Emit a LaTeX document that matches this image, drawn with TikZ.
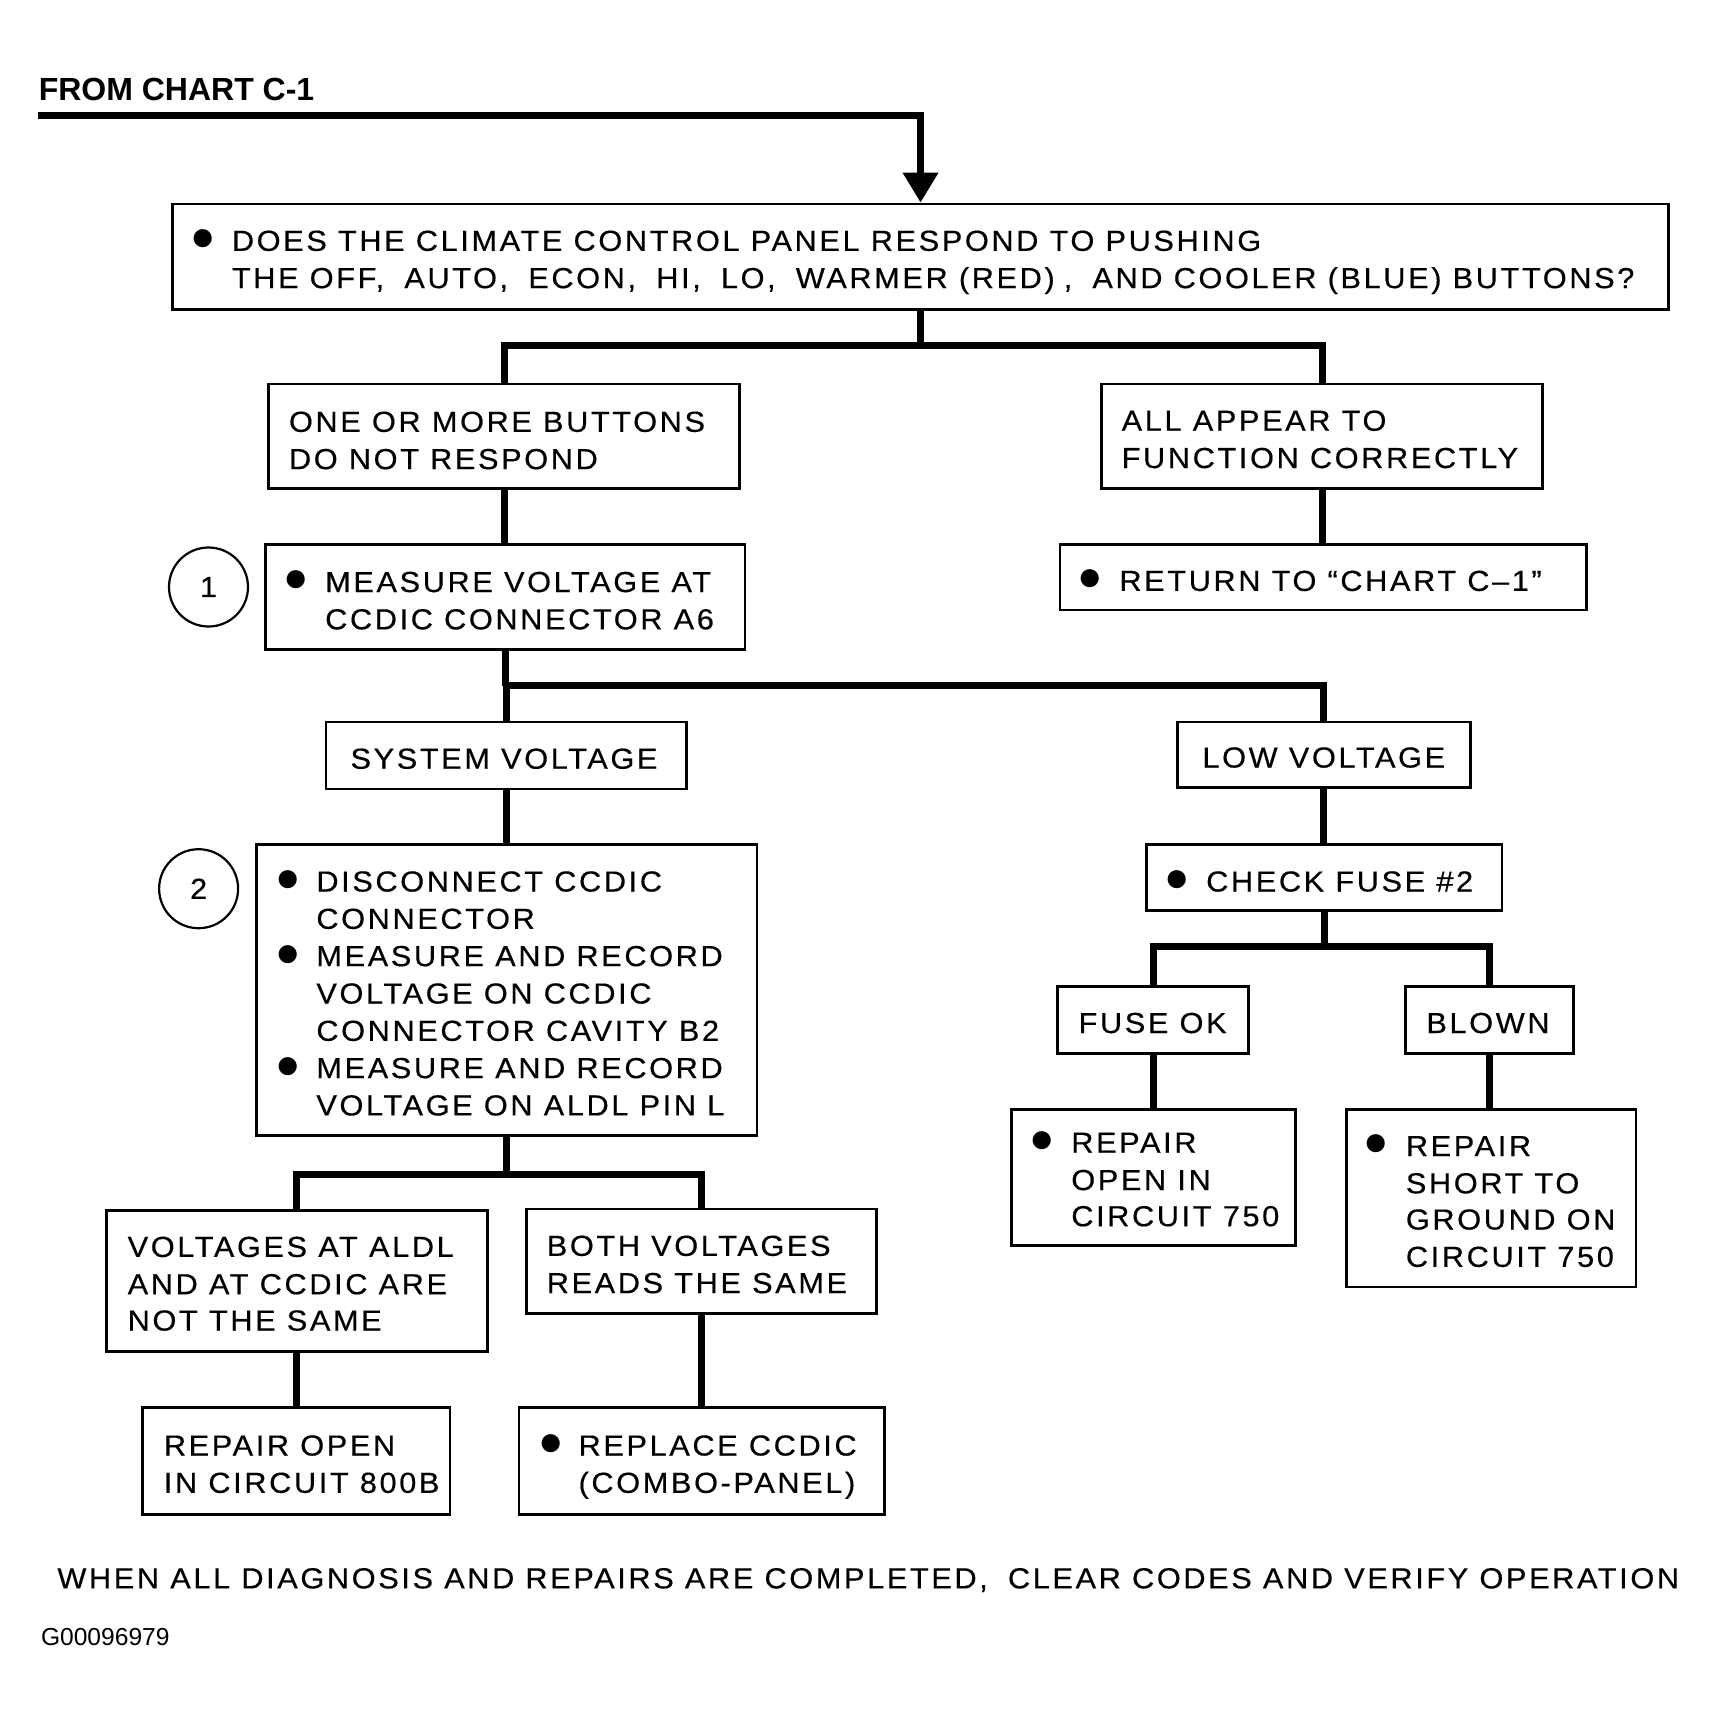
\documentclass[tikz,border=0pt]{standalone}
\usepackage{fontspec}
\setmainfont{Liberation Sans}[FakeStretch=1.06,LetterSpace=9,FakeBold=0.4]
\newfontfamily\plainfont{Liberation Sans}
\usetikzlibrary{arrows.meta}
\newcommand\csp{\hspace{4.5pt}}
\tikzset{
  bx/.style n args={2}{draw, line width=1.4pt, inner sep=0pt,
    minimum width=#1*0.5pt, minimum height=#2*0.5pt},
  tx/.style={inner sep=0pt, anchor=base west, font=\fontsize{14.5}{17}\selectfont},
  txc/.style={inner sep=0pt, anchor=base, font=\fontsize{14.5}{17}\selectfont},
  bul/.style={inner sep=0pt, anchor=center, font=\plainfont\fontsize{21}{24}\selectfont},
  num/.style={draw, circle, line width=1.1pt, inner sep=0pt, minimum size=39.5pt,
    font=\fontsize{14.5}{17}\selectfont},
  conn/.style={line width=3.5pt, line join=miter}
}
\begin{document}
\begin{tikzpicture}[x=0.5pt,y=-0.5pt]
\useasboundingbox (0,0) rectangle (1716,1720);
% title
\node[inner sep=0pt, anchor=base west, font=\plainfont\bfseries\fontsize{16}{19}\selectfont] (title) at (38.4,100) {FROM CHART C-1};
\coordinate (start) at (38,115.5);
% boxes
\node[bx={1496.5}{105.4}] (b1) at (920.55,256.7) {};
\node[bx={470.7}{104.3}] (b2L) at (504.15,436.15) {};
\node[bx={441.1}{104.3}] (b2R) at (1322.15,436.15) {};
\node[bx={479.5}{105.3}] (b3L) at (505.25,596.85) {};
\node[bx={526.5}{65.8}] (b3R) at (1323.25,577.1) {};
\node[bx={360.9}{66.9}] (b4L) at (506.35,755.45) {};
\node[bx={292.9}{65.8}] (b4R) at (1323.75,754.9) {};
\node[bx={500.3}{290.8}] (b5L) at (506.85,990.2) {};
\node[bx={355.4}{65.9}] (b5R) at (1324.3,877.75) {};
\node[bx={190.9}{66.9}] (b6a) at (1153.15,1019.85) {};
\node[bx={167.9}{66.9}] (b6b) at (1489.45,1019.85) {};
\node[bx={284.2}{136}] (b7a) at (1153.7,1177.3) {};
\node[bx={289.6}{177.7}] (b7b) at (1491.1,1198.15) {};
\node[bx={380.8}{141.5}] (b8a) at (296.8,1280.95) {};
\node[bx={350}{104.3}] (b8b) at (701.7,1261.15) {};
\node[bx={307.3}{106.4}] (b9a) at (296.25,1460.9) {};
\node[bx={365.3}{106.4}] (b9b) at (701.65,1460.9) {};
% circled numbers
\node[num] (c1) at (208.5,587) {1};
\node[num] (c2) at (198.6,888.7) {2};
% texts
\node[bul] (u1) at (203,240.3) {●};
\node[tx] (t1a) at (231.5,250.8) {DOES THE CLIMATE CONTROL PANEL RESPOND TO PUSHING};
\node[tx] (t1b) at (231.5,288.1) {THE OFF,\csp{} AUTO,\csp{} ECON,\csp{} HI,\csp{} LO,\csp{} WARMER (RED)\csp,\csp{} AND COOLER (BLUE) BUTTONS?};
\node[tx] (t2La) at (288.6,431.8) {ONE OR MORE BUTTONS};
\node[tx] (t2Lb) at (288.6,469.1) {DO NOT RESPOND};
\node[tx] (t2Ra) at (1121.3,430.7) {ALL APPEAR TO};
\node[tx] (t2Rb) at (1121.3,468) {FUNCTION CORRECTLY};
\node[bul] (u3L) at (296,581.5) {●};
\node[tx] (t3La) at (324.8,592) {MEASURE VOLTAGE AT};
\node[tx] (t3Lb) at (324.8,629.3) {CCDIC CONNECTOR A6};
\node[bul] (u3R) at (1090.6,580.4) {●};
\node[tx] (t3R) at (1119,590.9) {RETURN TO “CHART C–1”};
\node[txc] (t4L) at (504,768.7) {SYSTEM VOLTAGE};
\node[txc] (t4R) at (1323.8,767.5) {LOW VOLTAGE};
\node[bul] (u5a) at (288.6,881) {●};
\node[tx] (t5a) at (316,891.5) {DISCONNECT CCDIC};
\node[tx] (t5b) at (316,928.8) {CONNECTOR};
\node[bul] (u5b) at (288.6,955.6) {●};
\node[tx] (t5c) at (316,966.1) {MEASURE AND RECORD};
\node[tx] (t5d) at (316,1003.5) {VOLTAGE ON CCDIC};
\node[tx] (t5e) at (316,1040.8) {CONNECTOR CAVITY B2};
\node[bul] (u5c) at (288.6,1067.6) {●};
\node[tx] (t5f) at (316,1078.1) {MEASURE AND RECORD};
\node[tx] (t5g) at (316,1115.4) {VOLTAGE ON ALDL PIN L};
\node[bul] (u5R) at (1177.3,881) {●};
\node[tx] (t5R) at (1205.8,891.5) {CHECK FUSE \#2};
\node[txc] (t6a) at (1152.6,1033) {FUSE OK};
\node[txc] (t6b) at (1488,1033) {BLOWN};
\node[bul] (u7a) at (1042.3,1142.2) {●};
\node[tx] (t7aa) at (1070.9,1152.7) {REPAIR};
\node[tx] (t7ab) at (1070.9,1190) {OPEN IN};
\node[tx] (t7ac) at (1070.9,1226.2) {CIRCUIT 750};
\node[bul] (u7b) at (1376,1145.5) {●};
\node[tx] (t7ba) at (1405.5,1156) {REPAIR};
\node[tx] (t7bb) at (1405.5,1193.3) {SHORT TO};
\node[tx] (t7bc) at (1405.5,1229.5) {GROUND ON};
\node[tx] (t7bd) at (1405.5,1266.8) {CIRCUIT 750};
\node[tx] (t8aa) at (127.3,1256.9) {VOLTAGES AT ALDL};
\node[tx] (t8ab) at (127.3,1294.2) {AND AT CCDIC ARE};
\node[tx] (t8ac) at (127.3,1330.5) {NOT THE SAME};
\node[tx] (t8ba) at (546.4,1255.8) {BOTH VOLTAGES};
\node[tx] (t8bb) at (546.4,1293.1) {READS THE SAME};
\node[tx] (t9aa) at (163.5,1455.5) {REPAIR OPEN};
\node[tx] (t9ab) at (163.5,1492.8) {IN CIRCUIT 800B};
\node[bul] (u9b) at (550.8,1445) {●};
\node[tx] (t9ba) at (578.2,1455.5) {REPLACE CCDIC};
\node[tx] (t9bb) at (578.2,1492.8) {(COMBO-PANEL)};
\node[tx] (foot) at (57,1588.3) {WHEN ALL DIAGNOSIS AND REPAIRS ARE COMPLETED,\csp{} CLEAR CODES AND VERIFY OPERATION};
\node[inner sep=0pt, anchor=base west, font=\plainfont\fontsize{12.3}{14}\selectfont] (gid) at (40.6,1645.5) {G00096979};
% junctions
\coordinate (j1) at (920.55,345.6);
\coordinate (j2) at (505.25,685.8);
\coordinate (j3) at (1324.3,946.9);
\coordinate (j4) at (506.85,1174);
% connectors
\draw[conn,-{Triangle[width=17pt,length=15pt]}] (start) -| (b1.north);
\draw[conn] (b1.south) -- (j1);
\draw[conn] (b2L.north) |- (j1) -| (b2R.north);
\draw[conn] (b2L.south) -- (b2L.south |- b3L.north);
\draw[conn] (b2R.south) -- (b2R.south |- b3R.north);
\draw[conn] (b3L.south) -- (j2);
\draw[conn] (b4L.north) |- (j2) -| (b4R.north);
\draw[conn] (b4L.south) -- (b4L.south |- b5L.north);
\draw[conn] (b4R.south) -- (b4R.south |- b5R.north);
\draw[conn] (b5R.south) -- (j3);
\draw[conn] (b6a.north) |- (j3) -| (b6b.north);
\draw[conn] (b6a.south) -- (b6a.south |- b7a.north);
\draw[conn] (b6b.south) -- (b6b.south |- b7b.north);
\draw[conn] (b5L.south) -- (j4);
\draw[conn] (b8a.north) |- (j4) -| (b8b.north);
\draw[conn] (b8a.south) -- (b8a.south |- b9a.north);
\draw[conn] (b8b.south) -- (b8b.south |- b9b.north);
\end{tikzpicture}
\end{document}
